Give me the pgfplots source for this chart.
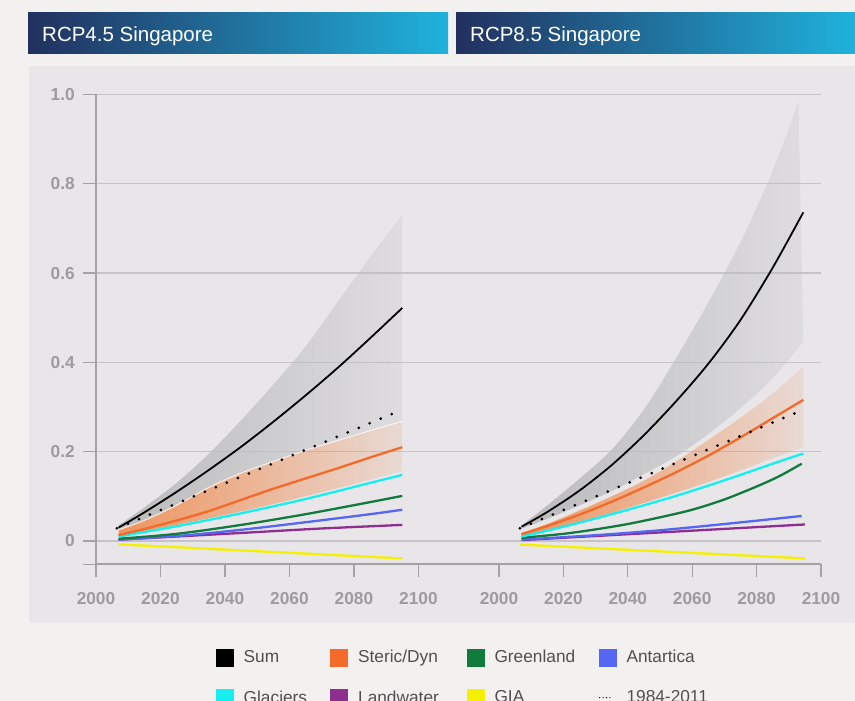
\documentclass[border=0pt]{standalone}
\usepackage{pgfplots}
\pgfplotsset{compat=1.18}
\usepgfplotslibrary{fillbetween}
\usetikzlibrary{fadings}
\usepackage{fontspec}
\setmainfont{Liberation Sans}
\definecolor{pagebg}{HTML}{F2F1EF}
\definecolor{panelbg}{HTML}{E8E6E9}
\definecolor{hdark}{HTML}{22305E}
\definecolor{hlight}{HTML}{1FB2DC}
\definecolor{gridc}{HTML}{C5C3C6}
\definecolor{axisc}{HTML}{A3A3A3}
\definecolor{tickc}{HTML}{9C9C9C}
\definecolor{legc}{HTML}{505050}
\definecolor{cSteric}{HTML}{F36A2A}
\definecolor{cGreen}{HTML}{117A3D}
\definecolor{cAnt}{HTML}{5566F2}
\definecolor{cGlac}{HTML}{14F0F0}
\definecolor{cLand}{HTML}{8E2F90}
\definecolor{cGIA}{HTML}{F4F000}
\definecolor{bandL}{HTML}{BBBBBC}
\definecolor{orL}{HTML}{EF955F}
\tikzfading[name=bandfade, left color=transparent!0, right color=transparent!78]
\tikzfading[name=orfade, left color=transparent!0, right color=transparent!85]
\newcommand{\sqimg}[1]{\addlegendimage{legend image code/.code={\fill[#1] (0pt,-8.5pt) rectangle (17pt,8.5pt);}}}
\pgfplotsset{
 layers/mylayers/.define layer set={decor,axis background,axis grid,axis ticks,axis lines,axis tick labels,pre main,main,axis descriptions,axis foreground}{/pgfplots/layers/standard},
 panel/.style={
  set layers=mylayers,
  scale only axis, height=469.7pt, ymin=-0.052, ymax=1.0,
  ytick={0,0.2,0.4,0.6,0.8,1.0},
  ymajorgrids, major grid style={draw=gridc, line width=1.3pt},
  xtick={2000,2020,2040,2060,2080,2100},
  xticklabels={2000,2020,2040,2060,2080,2100},
  axis x line*=bottom,
  tick align=outside, major tick length=13pt,
  tick style={draw=axisc, line width=1.3pt},
  axis line style={draw=axisc, line width=1.5pt, -},
  /pgf/number format/assume math mode=true,
  ticklabel style={font=\fontsize{17.3}{20}\selectfont\bfseries, text=tickc},
  xticklabel style={yshift=-12pt},
  yticklabel style={xshift=-4.7pt},
 },
 sumline/.style={black, line width=1.8pt, smooth, forget plot},
 cline/.style={line width=2.3pt, smooth, forget plot},
 dotline/.style={black, line width=3pt, line cap=round, dash pattern=on 0pt off 11.9pt, forget plot},
 grayband/.style={draw=none, fill=bandL, path fading=bandfade, forget plot},
 orband/.style={draw=none, fill=orL, path fading=orfade, forget plot},
}
\begin{document}
\begin{tikzpicture}
\pgfplotsset{set layers=mylayers}
\begin{pgfonlayer}{decor}
\fill[pagebg] (0pt,0pt) rectangle (855pt,-701pt);
\fill[panelbg] (29pt,-66pt) rectangle (855pt,-623pt);
\shade[left color=hdark, right color=hlight] (28pt,-12.3pt) rectangle (448pt,-53.3pt);
\shade[left color=hdark, right color=hlight] (456pt,-12.3pt) rectangle (855pt,-53.3pt);
\node[anchor=base west, inner sep=0pt, text=white, font=\fontsize{20.5}{24}\selectfont] at (42pt,-41.5pt) {RCP4.5 Singapore};
\node[anchor=base west, inner sep=0pt, text=white, font=\fontsize{20.5}{24}\selectfont] at (470pt,-41.5pt) {RCP8.5 Singapore};
\end{pgfonlayer}

% ---------------- RCP4.5 ----------------
\begin{axis}[panel, at={(96pt,-564.2pt)}, anchor=south west,
  width=403pt, xmin=2000, xmax=2125,
  axis y line*=left,
  yticklabels={0,0.2,0.4,0.6,0.8,1.0},
  extra y ticks={-0.052}, extra y tick labels={}, extra y tick style={grid=none},
  legend columns=4, legend cell align=left,
  legend style={at={(axis description cs:0.297,-0.1795)}, anchor=north west,
    draw=none, fill=none, inner sep=0pt, outer sep=0pt,
    font=\fontsize{17.3}{20}\selectfont, text=legc,
    nodes={inner sep=0pt}, row sep=23pt,
    /tikz/column 1/.style={column sep=10.6pt},
    /tikz/column 2/.style={column sep=23pt},
    /tikz/column 3/.style={column sep=10.6pt},
    /tikz/column 4/.style={column sep=27.6pt},
    /tikz/column 5/.style={column sep=10.6pt},
    /tikz/column 6/.style={column sep=23.2pt},
    /tikz/column 7/.style={column sep=10.6pt}},
]
\sqimg{black} \addlegendentry{Sum}
\sqimg{cSteric} \addlegendentry{Steric/Dyn}
\sqimg{cGreen} \addlegendentry{Greenland}
\sqimg{cAnt} \addlegendentry{Antartica}
\sqimg{cGlac} \addlegendentry{Glaciers}
\sqimg{cLand} \addlegendentry{Landwater}
\sqimg{cGIA} \addlegendentry{GIA}
\addlegendimage{legend image code/.code={\draw[black, line width=1.3pt, line cap=round, dash pattern=on 0pt off 3.4pt] (1pt,0pt) -- (13pt,0pt);}}
\addlegendentry{1984-2011}

\addplot[name path=aU, draw=none, smooth, forget plot] coordinates {(2007,0.035) (2015,0.075) (2025,0.13) (2035,0.195) (2045,0.27) (2055,0.35) (2065,0.435) (2075,0.535) (2085,0.635) (2095,0.73)};
\addplot[name path=aL, draw=none, smooth, forget plot] coordinates {(2007,0.025) (2015,0.046) (2025,0.08) (2035,0.12) (2045,0.152) (2055,0.178) (2065,0.203) (2075,0.225) (2085,0.247) (2095,0.268)};
\addplot[grayband] fill between[of=aU and aL];
\addplot[name path=bL, draw=none, smooth, forget plot] coordinates {(2007,0.011) (2025,0.036) (2045,0.066) (2065,0.1) (2085,0.137) (2095,0.157)};
\addplot[orband] fill between[of=aL and bL];
\addplot[white, line width=1pt, opacity=0.8, smooth, forget plot] coordinates {(2007,0.025) (2015,0.046) (2025,0.08) (2035,0.12) (2045,0.152) (2055,0.178) (2065,0.203) (2075,0.225) (2085,0.247) (2095,0.268)};

\addplot[cline, cGIA] coordinates {(2007,-0.0075) (2095,-0.039)};
\addplot[cline, cLand] coordinates {(2007,0.003) (2030,0.012) (2050,0.02) (2070,0.028) (2095,0.036)};
\addplot[cline, cAnt] coordinates {(2007,0.003) (2025,0.011) (2045,0.025) (2065,0.042) (2085,0.06) (2095,0.07)};
\addplot[cline, cGreen] coordinates {(2007,0.005) (2025,0.016) (2045,0.036) (2065,0.06) (2085,0.087) (2095,0.101)};
\addplot[cline, cGlac] coordinates {(2007,0.010) (2025,0.033) (2045,0.062) (2065,0.094) (2085,0.13) (2095,0.148)};
\addplot[cline, cSteric] coordinates {(2007,0.013) (2015,0.027) (2025,0.046) (2035,0.067) (2045,0.092) (2055,0.117) (2065,0.14) (2075,0.163) (2085,0.187) (2095,0.21)};
\addplot[dotline] coordinates {(2006.5,0.0285) (2095,0.294)};
\addplot[sumline] coordinates {(2007,0.030) (2015,0.064) (2025,0.110) (2035,0.159) (2045,0.211) (2055,0.267) (2065,0.326) (2075,0.388) (2085,0.454) (2095,0.522)};
\end{axis}

% ---------------- RCP8.5 ----------------
\begin{axis}[panel, at={(499pt,-564.2pt)}, anchor=south west,
  width=322pt, xmin=2000, xmax=2100,
  axis y line*=left, y axis line style={draw=none},
  ytick style={draw=none}, yticklabels={},
]
\addplot[name path=cU, draw=none, smooth, forget plot] coordinates {(2007,0.035) (2015,0.08) (2025,0.14) (2035,0.205) (2045,0.295) (2055,0.41) (2065,0.535) (2075,0.67) (2085,0.83) (2093,0.985)};
\addplot[name path=cL, draw=none, smooth, forget plot] coordinates {(2007,0.028) (2015,0.05) (2025,0.08) (2035,0.112) (2045,0.15) (2055,0.19) (2065,0.24) (2075,0.298) (2085,0.365) (2094.5,0.448)};
\addplot[grayband] fill between[of=cU and cL];
\addplot[name path=dU, draw=none, smooth, forget plot] coordinates {(2007,0.018) (2015,0.038) (2025,0.068) (2035,0.1) (2045,0.135) (2055,0.178) (2065,0.226) (2075,0.276) (2085,0.33) (2094.5,0.39)};
\addplot[name path=dL, draw=none, smooth, forget plot] coordinates {(2007,0.011) (2015,0.024) (2025,0.043) (2035,0.063) (2045,0.085) (2055,0.108) (2065,0.132) (2075,0.158) (2085,0.185) (2094.5,0.21)};
\addplot[orband] fill between[of=dU and dL];

\addplot[cline, cGIA] coordinates {(2006.5,-0.008) (2095,-0.039)};
\addplot[cline, cLand] coordinates {(2007,0.002) (2095,0.037)};
\addplot[cline, cAnt] coordinates {(2007,0.003) (2030,0.013) (2050,0.024) (2070,0.038) (2094,0.056)};
\addplot[cline, cGreen] coordinates {(2007,0.007) (2020,0.016) (2030,0.026) (2040,0.038) (2050,0.053) (2060,0.07) (2070,0.093) (2080,0.122) (2087,0.145) (2094,0.173)};
\addplot[cline, cGlac] coordinates {(2007,0.010) (2015,0.023) (2025,0.041) (2035,0.060) (2045,0.080) (2055,0.101) (2065,0.124) (2075,0.148) (2085,0.173) (2094.5,0.196)};
\addplot[cline, cSteric] coordinates {(2007,0.015) (2015,0.0335) (2025,0.059) (2035,0.088) (2045,0.12) (2055,0.154) (2065,0.191) (2075,0.232) (2085,0.275) (2094.5,0.316)};
\addplot[dotline] coordinates {(2006.5,0.0285) (2094.5,0.294)};
\addplot[sumline] coordinates {(2007,0.032) (2015,0.065) (2025,0.113) (2035,0.170) (2045,0.237) (2055,0.313) (2065,0.397) (2075,0.495) (2085,0.612) (2094.5,0.736)};
\end{axis}
\pgfresetboundingbox
\path[use as bounding box] (0pt,0pt) rectangle (855pt,-701pt);
\end{tikzpicture}
\end{document}
